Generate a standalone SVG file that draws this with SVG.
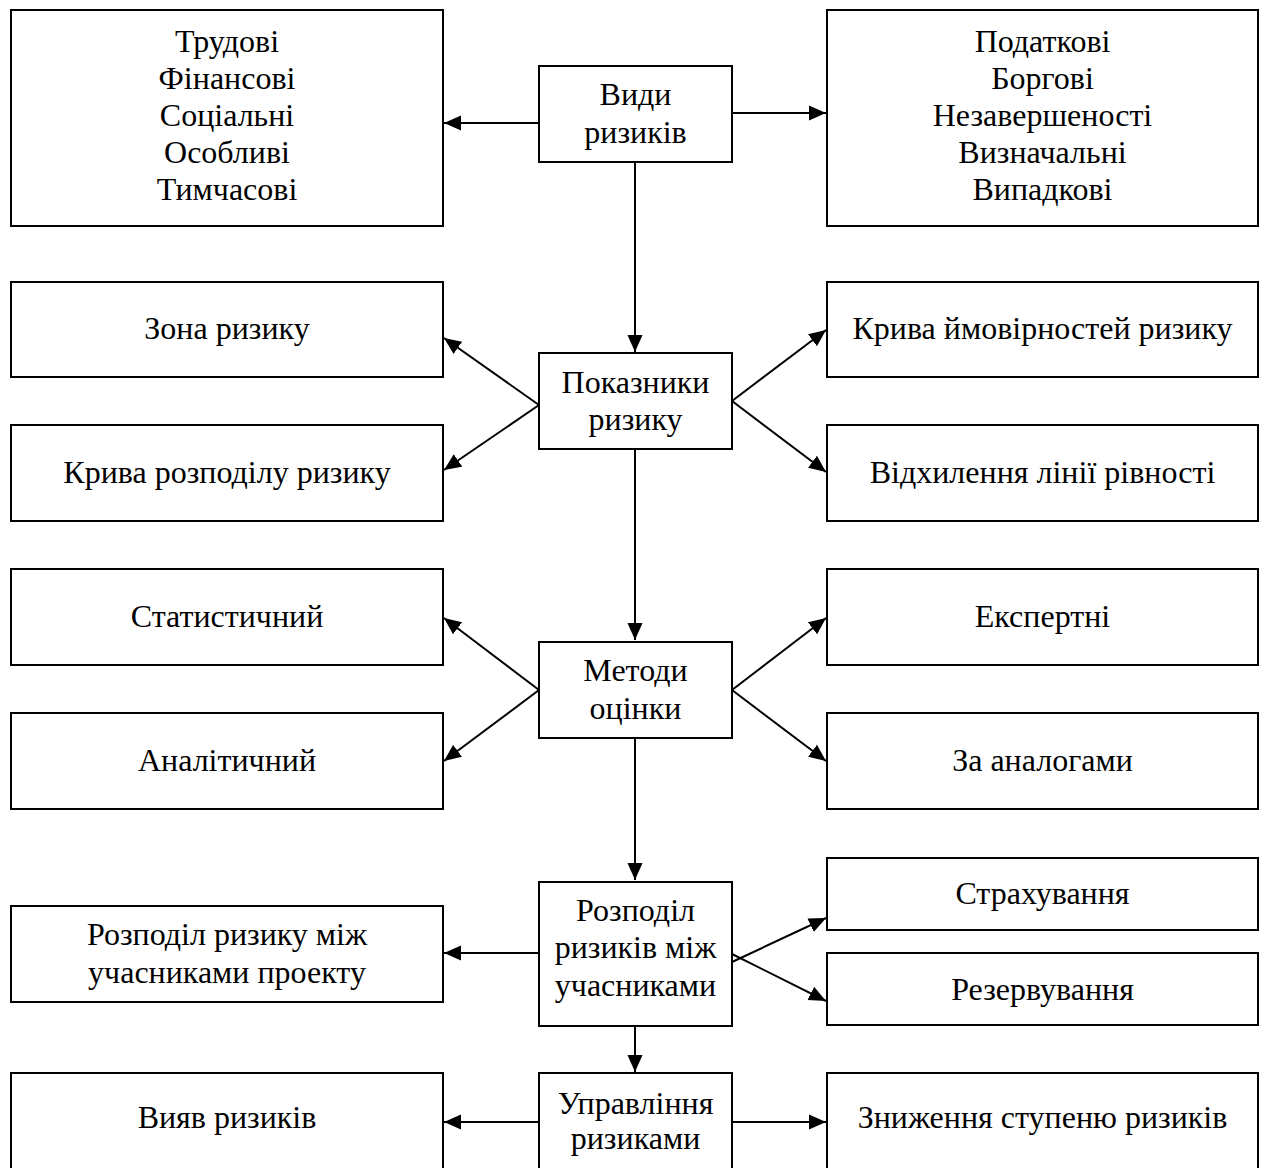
<svg xmlns="http://www.w3.org/2000/svg" width="1261" height="1168" viewBox="0 0 1261 1168">
<style>
.box{fill:#fff;stroke:#000;stroke-width:2}
.t{font-family:"Liberation Serif","Times New Roman",serif;font-size:32px;fill:#000;text-anchor:middle}
.c{stroke:#000;stroke-width:2;fill:none}
</style>
<defs>
<marker id="ah" markerUnits="userSpaceOnUse" markerWidth="17" markerHeight="16" refX="17" refY="8" orient="auto">
<path d="M0,0.5 L17,8 L0,15.5 z" fill="#000"/>
</marker>
</defs>
<rect width="1261" height="1168" fill="#fff"/>
<g id="connectors">
<line class="c" x1="539" y1="123" x2="444" y2="123" marker-end="url(#ah)"/>
<line class="c" x1="732" y1="113" x2="826" y2="113" marker-end="url(#ah)"/>
<line class="c" x1="635" y1="162" x2="635" y2="352" marker-end="url(#ah)"/>
<line class="c" x1="539" y1="405" x2="444" y2="338" marker-end="url(#ah)"/>
<line class="c" x1="539" y1="405" x2="444" y2="470" marker-end="url(#ah)"/>
<line class="c" x1="732" y1="401" x2="826" y2="330" marker-end="url(#ah)"/>
<line class="c" x1="732" y1="401" x2="826" y2="472" marker-end="url(#ah)"/>
<line class="c" x1="635" y1="449" x2="635" y2="640" marker-end="url(#ah)"/>
<line class="c" x1="539" y1="690" x2="444" y2="618" marker-end="url(#ah)"/>
<line class="c" x1="539" y1="690" x2="444" y2="761" marker-end="url(#ah)"/>
<line class="c" x1="732" y1="690" x2="826" y2="618" marker-end="url(#ah)"/>
<line class="c" x1="732" y1="690" x2="826" y2="761" marker-end="url(#ah)"/>
<line class="c" x1="635" y1="738" x2="635" y2="880" marker-end="url(#ah)"/>
<line class="c" x1="539" y1="953" x2="444" y2="953" marker-end="url(#ah)"/>
<line class="c" x1="732" y1="962" x2="826" y2="918" marker-end="url(#ah)"/>
<line class="c" x1="732" y1="954" x2="826" y2="1001" marker-end="url(#ah)"/>
<line class="c" x1="635" y1="1026" x2="635" y2="1072" marker-end="url(#ah)"/>
<line class="c" x1="539" y1="1122" x2="444" y2="1122" marker-end="url(#ah)"/>
<line class="c" x1="732" y1="1122" x2="826" y2="1122" marker-end="url(#ah)"/>
</g>
<g id="n-left-types"><rect class="box" x="11" y="10" width="432" height="216"/>
<text class="t" x="227" y="52">Трудові</text><text class="t" x="227" y="89">Фінансові</text><text class="t" x="227" y="126">Соціальні</text><text class="t" x="227" y="163">Особливі</text><text class="t" x="227" y="200">Тимчасові</text></g>
<g id="n-types"><rect class="box" x="539" y="66" width="193" height="96"/>
<text class="t" x="635.5" y="105">Види</text><text class="t" x="635.5" y="143">ризиків</text></g>
<g id="n-right-types"><rect class="box" x="827" y="10" width="431" height="216"/>
<text class="t" x="1042.5" y="52">Податкові</text><text class="t" x="1042.5" y="89">Боргові</text><text class="t" x="1042.5" y="126">Незавершеності</text><text class="t" x="1042.5" y="163">Визначальні</text><text class="t" x="1042.5" y="200">Випадкові</text></g>
<g id="n-zone"><rect class="box" x="11" y="282" width="432" height="95"/><text class="t" x="227" y="339">Зона ризику</text></g>
<g id="n-distcurve"><rect class="box" x="11" y="425" width="432" height="96"/><text class="t" x="227" y="483">Крива розподілу ризику</text></g>
<g id="n-indicators"><rect class="box" x="539" y="353" width="193" height="96"/>
<text class="t" x="635.5" y="393">Показники</text><text class="t" x="635.5" y="430">ризику</text></g>
<g id="n-probcurve"><rect class="box" x="827" y="282" width="431" height="95"/><text class="t" x="1042.5" y="339">Крива ймовірностей ризику</text></g>
<g id="n-deviation"><rect class="box" x="827" y="425" width="431" height="96"/><text class="t" x="1042.5" y="483">Відхилення лінії рівності</text></g>
<g id="n-stat"><rect class="box" x="11" y="569" width="432" height="96"/><text class="t" x="227" y="627">Статистичний</text></g>
<g id="n-analyt"><rect class="box" x="11" y="713" width="432" height="96"/><text class="t" x="227" y="771">Аналітичний</text></g>
<g id="n-methods"><rect class="box" x="539" y="642" width="193" height="96"/>
<text class="t" x="635.5" y="681">Методи</text><text class="t" x="635.5" y="719">оцінки</text></g>
<g id="n-expert"><rect class="box" x="827" y="569" width="431" height="96"/><text class="t" x="1042.5" y="627">Експертні</text></g>
<g id="n-analog"><rect class="box" x="827" y="713" width="431" height="96"/><text class="t" x="1042.5" y="771">За аналогами</text></g>
<g id="n-distrib-left"><rect class="box" x="11" y="906" width="432" height="96"/>
<text class="t" x="227" y="945">Розподіл ризику між</text><text class="t" x="227" y="983">учасниками проекту</text></g>
<g id="n-distrib"><rect class="box" x="539" y="882" width="193" height="144"/>
<text class="t" x="635.5" y="921">Розподіл</text><text class="t" x="635.5" y="958">ризиків між</text><text class="t" x="635.5" y="996">учасниками</text></g>
<g id="n-insurance"><rect class="box" x="827" y="858" width="431" height="72"/><text class="t" x="1042.5" y="904">Страхування</text></g>
<g id="n-reserve"><rect class="box" x="827" y="953" width="431" height="72"/><text class="t" x="1042.5" y="1000">Резервування</text></g>
<g id="n-detect"><rect class="box" x="11" y="1073" width="432" height="110"/><text class="t" x="227" y="1128">Вияв ризиків</text></g>
<g id="n-manage"><rect class="box" x="539" y="1073" width="193" height="110"/>
<text class="t" x="635.5" y="1114">Управління</text><text class="t" x="635.5" y="1149">ризиками</text></g>
<g id="n-reduce"><rect class="box" x="827" y="1073" width="431" height="110"/><text class="t" x="1042.5" y="1128">Зниження ступеню ризиків</text></g>
</svg>
